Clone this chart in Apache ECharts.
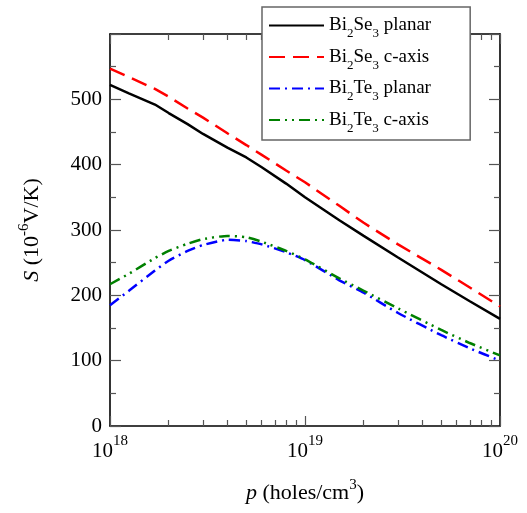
<!DOCTYPE html>
<html>
<head>
<meta charset="utf-8">
<script src="https://cdn.jsdelivr.net/npm/echarts@6/dist/echarts.min.js"></script>
<style>html,body{margin:0;padding:0;background:#fff}#c{width:527px;height:513px}</style>
</head>
<body>
<div id="c"></div>
<script>
// hole concentration p (holes/cm^3)
var pValues = [1e18, 1.25e18, 1.7e18, 2e18, 2.5e18, 3e18, 4e18, 5e18, 6e18, 8e18,
               1e19, 1.5e19, 2e19, 3e19, 5e19, 7e19, 1e20];
// Seebeck coefficient S (1e-6 V/K)
var bi2se3Planar = [522, 509, 492, 479, 462, 447, 426, 411, 396, 371, 350, 315, 291, 258, 217, 191, 164];
var bi2se3Caxis  = [547, 534, 516, 504, 486, 472, 448, 430, 415, 391, 373, 337, 311, 278, 239, 212, 183];
var bi2te3Planar = [185, 207, 238, 253, 268, 277, 285, 283, 278, 266, 254, 223, 204, 173, 139, 119, 100];
var bi2te3Caxis  = [217, 233, 257, 268, 279, 286, 291, 289, 282, 268, 255, 226, 207, 180, 147, 127, 108];
var seriesNames = ['Bi2Se3 planar', 'Bi2Se3 c-axis', 'Bi2Te3 planar', 'Bi2Te3 c-axis'];
var xMajorTicks = [1e18, 1e19, 1e20];
var xMinorTicks = [2e18, 3e18, 4e18, 5e18, 6e18, 7e18, 8e18, 9e18,
                   2e19, 3e19, 4e19, 5e19, 6e19, 7e19, 8e19, 9e19];

var FONT = 'Liberation Serif';
function pairs(ys) { return pValues.map(function (p, i) { return [p, ys[i]]; }); }

var legendRich = {
  a: { fontFamily: FONT, fontSize: 19, color: '#000', lineHeight: 22 },
  s: { fontFamily: FONT, fontSize: 13, color: '#000', lineHeight: 13, verticalAlign: 'bottom', padding: [0, 0, -4, 0] }
};
function legendFmt(name) {
  var m = name.match(/^Bi2(Se|Te)3 (.*)$/);
  return '{a|Bi}{s|2}{a|' + m[1] + '}{s|3}{a| ' + m[2] + '}';
}

var labelRich = {
  b: { fontFamily: FONT, fontSize: 21, color: '#000', lineHeight: 34 },
  s: { fontFamily: FONT, fontSize: 15, color: '#000', lineHeight: 15, verticalAlign: 'top' }
};
var titleRich = {
  b: { fontFamily: FONT, fontSize: 22, color: '#000', lineHeight: 30 },
  s: { fontFamily: FONT, fontSize: 15, color: '#000', lineHeight: 15, verticalAlign: 'top' },
  i: { fontFamily: FONT, fontSize: 22, color: '#000', lineHeight: 30, fontStyle: 'italic' }
};

var tickColor = '#555';
function xAxisDef(pos, ticks, len, showLine, showLabel) {
  return {
    type: 'log', logBase: 10, min: 1e18, max: 1e20, position: pos,
    axisLine: { show: showLine, onZero: false, lineStyle: { color: '#000', width: 1.6 } },
    axisTick: { show: true, inside: true, length: len, customValues: ticks, lineStyle: { color: tickColor, width: 1.2 } },
    axisLabel: { show: showLabel, customValues: xMajorTicks, margin: 8,
      formatter: function (v) { return '{b|10}{s|' + Math.round(Math.log10(v)) + '}'; }, rich: labelRich },
    splitLine: { show: false }, minorTick: { show: false }
  };
}

var chart = echarts.init(document.getElementById('c'), null, { renderer: 'canvas' });
chart.setOption({
  animation: false,
  backgroundColor: '#fff',
  grid: { left: 110, right: 27, top: 34, bottom: 87, containLabel: false },
  legend: {
    orient: 'vertical', left: 262, top: 7, z: 10,
    backgroundColor: '#fff', borderColor: '#666', borderWidth: 1.5,
    padding: [9, 39, 5, 6], itemGap: 7, itemWidth: 55, itemHeight: 14,
    itemStyle: { opacity: 0 },
    formatter: legendFmt, textStyle: { rich: legendRich },
    data: seriesNames
  },
  xAxis: [
    Object.assign(xAxisDef('bottom', xMajorTicks, 10, true, true), {
      name: '{i|p}{b| (holes/cm}{s|3}{b|)}', nameLocation: 'middle', nameGap: 52,
      nameTextStyle: { rich: titleRich }
    }),
    xAxisDef('bottom', xMinorTicks, 6, false, false),
    xAxisDef('top', xMajorTicks, 10, true, false),
    xAxisDef('top', xMinorTicks, 6, false, false)
  ],
  yAxis: [
    {
      type: 'value', min: 0, max: 600, interval: 100, position: 'left',
      axisLine: { show: true, onZero: false, lineStyle: { color: '#000', width: 1.6 } },
      axisTick: { inside: true, length: 11, lineStyle: { color: tickColor, width: 1.2 } },
      minorTick: { show: true, splitNumber: 2, length: 6, lineStyle: { color: tickColor, width: 1.2 } },
      axisLabel: { showMaxLabel: false, margin: 8, fontFamily: FONT, fontSize: 21, color: '#000' },
      splitLine: { show: false },
      name: '{i|S}{b| (10}{s|-6}{b|V/K)}', nameLocation: 'middle', nameGap: 63, nameRotate: 90,
      nameTextStyle: { rich: titleRich }
    },
    {
      type: 'value', min: 0, max: 600, interval: 100, position: 'right',
      axisLine: { show: true, onZero: false, lineStyle: { color: '#000', width: 1.6 } },
      axisTick: { inside: true, length: 11, lineStyle: { color: tickColor, width: 1.2 } },
      minorTick: { show: true, splitNumber: 2, length: 6, lineStyle: { color: tickColor, width: 1.2 } },
      axisLabel: { show: false }, splitLine: { show: false }
    }
  ],
  series: [
    { name: seriesNames[0], type: 'line', symbol: 'none', data: pairs(bi2se3Planar),
      lineStyle: { color: '#000', width: 2.5, type: 'solid' }, itemStyle: { color: '#000' } },
    { name: seriesNames[1], type: 'line', symbol: 'none', data: pairs(bi2se3Caxis),
      lineStyle: { color: '#ff0000', width: 2.5, type: [16, 8] }, itemStyle: { color: '#ff0000' } },
    { name: seriesNames[2], type: 'line', symbol: 'none', smooth: 0.2, data: pairs(bi2te3Planar),
      lineStyle: { color: '#0000ff', width: 2.5, type: [11, 5, 2, 5] }, itemStyle: { color: '#0000ff' } },
    { name: seriesNames[3], type: 'line', symbol: 'none', smooth: 0.2, data: pairs(bi2te3Caxis),
      lineStyle: { color: '#008000', width: 2.5, type: [11, 5, 2, 5, 2, 5] }, itemStyle: { color: '#008000' } }
  ]
});
</script>
</body>
</html>
